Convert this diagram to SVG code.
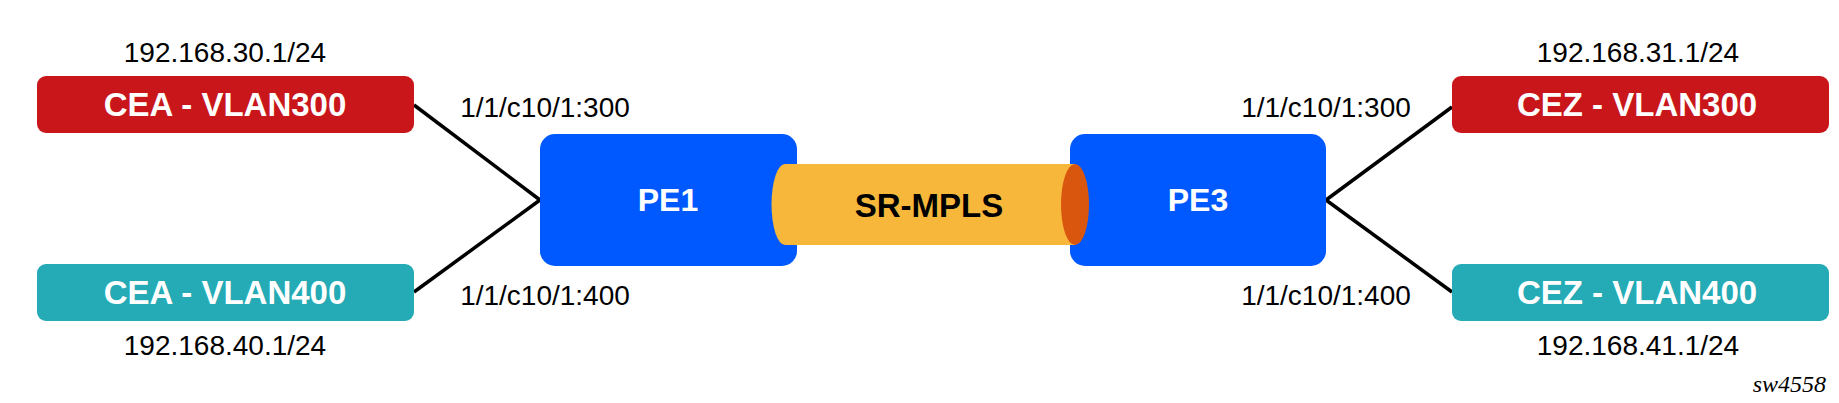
<svg xmlns="http://www.w3.org/2000/svg" width="1839" height="403" viewBox="0 0 1839 403">
<style>
.lbl{font-family:"Liberation Sans",Arial,sans-serif;font-size:28px;fill:#000;text-anchor:middle}
.bold{font-family:"Liberation Sans",Arial,sans-serif;font-size:33px;font-weight:bold;text-anchor:middle}
.pet{font-size:32px}
.w{fill:#fff}
.k{fill:#000}
.red{fill:#C8161A}
.teal{fill:#24ABB6}
.pe{fill:#0059FF}
.conn{stroke:#000;stroke-width:3.5;fill:none}
.tag{font-family:"Liberation Serif","Times New Roman",serif;font-style:italic;font-size:24px;fill:#000;text-anchor:end}
</style>
<rect width="1839" height="403" fill="#fff"/>
<g id="connectors">
<line class="conn" x1="414" y1="105" x2="540" y2="200"/>
<line class="conn" x1="414" y1="292" x2="540" y2="200"/>
<line class="conn" x1="1452" y1="107" x2="1326" y2="200"/>
<line class="conn" x1="1452" y1="292" x2="1326" y2="200"/>
</g>
<g id="CEA300">
<rect class="red" x="37" y="76" width="377" height="57" rx="9"/>
<text class="bold w" x="225" y="116">CEA - VLAN300</text>
<text class="lbl" x="225" y="62">192.168.30.1/24</text>
</g>
<g id="CEA400">
<rect class="teal" x="37" y="264" width="377" height="57" rx="9"/>
<text class="bold w" x="225" y="304">CEA - VLAN400</text>
<text class="lbl" x="225" y="355">192.168.40.1/24</text>
</g>
<g id="CEZ300">
<rect class="red" x="1452" y="76" width="377" height="57" rx="9"/>
<text class="bold w" x="1637" y="116">CEZ - VLAN300</text>
<text class="lbl" x="1638" y="62">192.168.31.1/24</text>
</g>
<g id="CEZ400">
<rect class="teal" x="1452" y="264" width="377" height="57" rx="9"/>
<text class="bold w" x="1637" y="304">CEZ - VLAN400</text>
<text class="lbl" x="1638" y="355">192.168.41.1/24</text>
</g>
<g id="PE1">
<rect class="pe" x="540" y="134" width="257" height="132" rx="15"/>
<text class="bold pet w" x="668" y="211">PE1</text>
</g>
<g id="PE3">
<rect class="pe" x="1070" y="134" width="256" height="132" rx="15"/>
<text class="bold pet w" x="1198" y="211">PE3</text>
</g>
<g id="SR-MPLS">
<path d="M785 164 L1075 164 L1075 245 L785 245 A13.5 40.5 0 0 1 785 164 Z" fill="#F6B73A"/>
<ellipse cx="1075" cy="204.5" rx="14" ry="40.5" fill="#D9560F"/>
<text class="bold k" x="929" y="217">SR-MPLS</text>
</g>
<g id="port-labels">
<text class="lbl" x="545" y="117">1/1/c10/1:300</text>
<text class="lbl" x="545" y="305">1/1/c10/1:400</text>
<text class="lbl" x="1326" y="117">1/1/c10/1:300</text>
<text class="lbl" x="1326" y="305">1/1/c10/1:400</text>
</g>
<text class="tag" x="1826" y="392">sw4558</text>
</svg>
